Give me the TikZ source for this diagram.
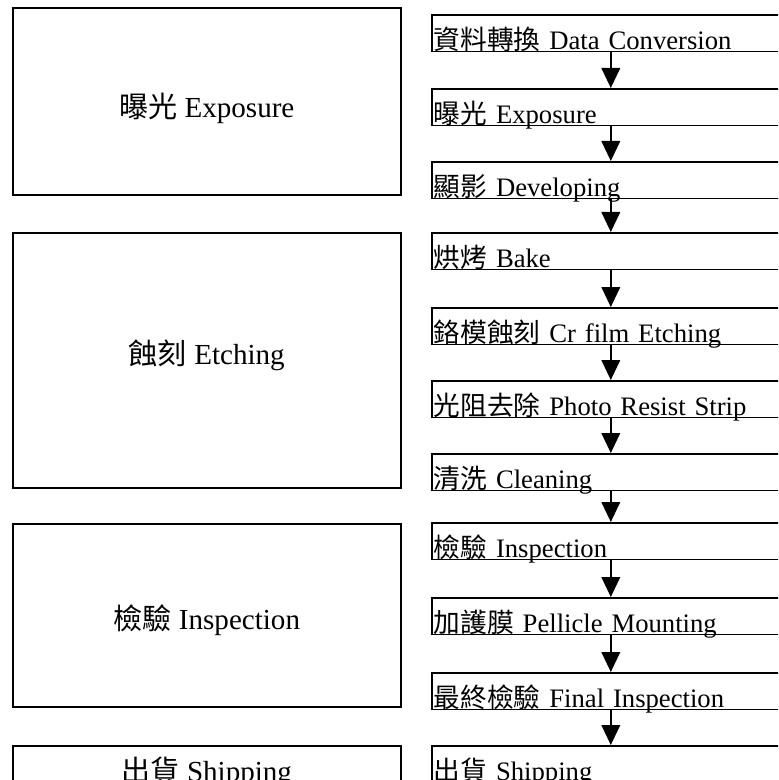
\documentclass[tikz,border=0pt]{standalone}
\usepackage{fontspec}
\setmainfont{Liberation Serif}
\newfontfamily\cjk{Noto Sans CJK TC}
\newcommand{\zh}[1]{{\cjk #1}}
\usetikzlibrary{arrows.meta}
\begin{document}
\begin{tikzpicture}[x=0.75pt,y=-0.75pt,
  stepbox/.style={draw,line width=1.2pt,rectangle,anchor=north west,
    minimum width=268.5pt,minimum height=27.4pt,text width=265.5pt,
    inner xsep=1.5pt,inner ysep=0pt,text height=24.4pt,text depth=0pt,
    align=left,font=\fontsize{20}{24}\selectfont},
  phasebox/.style={draw,line width=1.2pt,rectangle,anchor=north west,
    minimum width=291pt,inner sep=0pt,text depth=0pt,
    font=\fontsize{21.8}{26}\selectfont},
  arr/.style={line width=1.2pt,-{Triangle[length=15pt,width=14pt]}}]
\useasboundingbox (0,0) rectangle (778,780);
\clip (0,0) rectangle (778,780);
% left phase boxes
\node[phasebox,minimum height=140.25pt,text height=24.75pt] (pA) at (12,7) {\zh{曝光} Exposure};
\node[phasebox,minimum height=191.25pt,text height=6.75pt] (pB) at (12,232) {\zh{蝕刻} Etching};
\node[phasebox,minimum height=137.25pt,text height=21.75pt] (pC) at (12,523) {\zh{檢驗} Inspection};
\node[phasebox,minimum height=28.5pt,text height=25.5pt] (pD) at (12,745) {\zh{出貨} Shipping};
% right step boxes
\node[stepbox] (r1) at (431,14) {\zh{資料轉換} Data Conversion};
\node[stepbox] (r2) at (431,88) {\zh{曝光} Exposure};
\node[stepbox] (r3) at (431,161) {\zh{顯影} Developing};
\node[stepbox] (r4) at (431,232) {\zh{烘烤} Bake};
\node[stepbox] (r5) at (431,307) {\zh{鉻模蝕刻} Cr film Etching};
\node[stepbox] (r6) at (431,380) {\zh{光阻去除} Photo Resist Strip};
\node[stepbox] (r7) at (431,453) {\zh{清洗} Cleaning};
\node[stepbox] (r8) at (431,522) {\zh{檢驗} Inspection};
\node[stepbox] (r9) at (431,597) {\zh{加護膜} Pellicle Mounting};
\node[stepbox] (r10) at (431,672) {\zh{最終檢驗} Final Inspection};
\node[stepbox] (r11) at (431,745) {\zh{出貨} Shipping};
% arrows
\foreach \a/\b in {r1/r2,r2/r3,r3/r4,r4/r5,r5/r6,r6/r7,r7/r8,r8/r9,r9/r10,r10/r11}
  \draw[arr] (\a) -- (\b);
\end{tikzpicture}
\end{document}
